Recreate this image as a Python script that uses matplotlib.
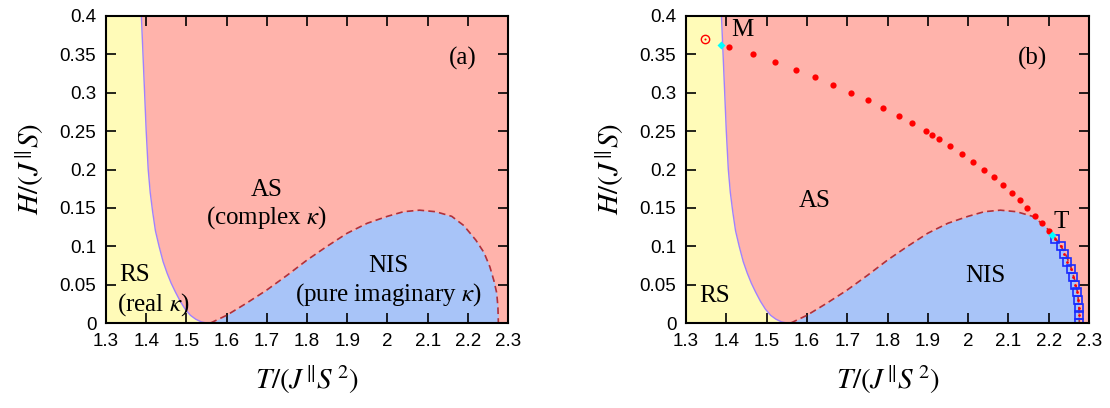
import numpy as np
import matplotlib
matplotlib.use("Agg")
from matplotlib import pyplot as plt

# RS / AS boundary (solid purple)
rs_T = [1.388, 1.392, 1.396, 1.400, 1.405, 1.410, 1.416, 1.423, 1.432, 1.442, 1.452,
        1.462, 1.473, 1.485, 1.497, 1.510, 1.523, 1.537, 1.55]
rs_H = [0.40, 0.35, 0.30, 0.25, 0.20, 0.17, 0.145, 0.12, 0.10, 0.08, 0.065,
        0.052, 0.040, 0.028, 0.018, 0.010, 0.005, 0.0015, 0.0]

# AS / NIS boundary (dashed)
nis_T = [1.56, 1.60, 1.65, 1.70, 1.75, 1.80, 1.85, 1.90, 1.95, 2.00, 2.04, 2.08,
         2.12, 2.16, 2.19, 2.22, 2.24, 2.255, 2.265, 2.272, 2.275, 2.276]
nis_H = [0.0, 0.010, 0.026, 0.043, 0.062, 0.082, 0.100, 0.117, 0.130, 0.139, 0.145, 0.147,
         0.145, 0.139, 0.127, 0.108, 0.092, 0.073, 0.055, 0.039, 0.02, 0.0]

# panel (b) data
dot_T = [1.407, 1.466, 1.521, 1.572, 1.621, 1.666, 1.710, 1.751, 1.790, 1.828, 1.862, 1.895,
         1.910, 1.927, 1.955, 1.985, 2.012, 2.039, 2.064, 2.086, 2.108, 2.128, 2.147, 2.166,
         2.184, 2.200]
dot_H = [0.36, 0.35, 0.34, 0.33, 0.32, 0.31, 0.30, 0.29, 0.28, 0.27, 0.26, 0.25,
         0.245, 0.24, 0.23, 0.22, 0.21, 0.20, 0.19, 0.18, 0.17, 0.16, 0.15, 0.14,
         0.13, 0.12]
sq_T = [2.216, 2.230, 2.238, 2.246, 2.2545, 2.260, 2.266, 2.270, 2.272, 2.2745, 2.276, 2.276]
sq_H = [0.11, 0.10, 0.09, 0.08, 0.07, 0.06, 0.05, 0.04, 0.03, 0.02, 0.01, 0.0]
open_T, open_H = [1.347], [0.37]
crit_T = [1.388, 2.208]
crit_H = [0.362, 0.1147]

yellow = "#fffbb8"
pink = "#ffb3ab"
blue = "#a8c4f8"
purple = "#a080ff"
dred = "#b0303a"

plt.rcParams["mathtext.fontset"] = "stix"
tick_font = "Liberation Sans"
serif = "Liberation Serif"

fig = plt.figure(figsize=(11.1, 4.08), dpi=100)
ax_a = fig.add_axes([106 / 1110, 85 / 408, 402 / 1110, 307 / 408])
ax_b = fig.add_axes([686 / 1110, 85 / 408, 403 / 1110, 307 / 408])

for ax in (ax_a, ax_b):
    ax.set_facecolor(pink)
    ax.fill_betweenx(rs_H, 1.3, rs_T, color=yellow, lw=0)
    ax.fill_between(nis_T, 0, nis_H, color=blue, lw=0)
    ax.plot(rs_T, rs_H, color=purple, lw=1.0)
    ax.plot(nis_T, nis_H, color=dred, lw=1.2, ls=(0, (4, 2.5)))
    ax.set_xlim(1.3, 2.3)
    ax.set_ylim(0, 0.4)
    ax.set_xticks(np.arange(1.3, 2.31, 0.1))
    ax.set_xticklabels(["1.3", "1.4", "1.5", "1.6", "1.7", "1.8", "1.9", "2", "2.1", "2.2", "2.3"])
    ax.set_yticks(np.arange(0, 0.41, 0.05))
    ax.set_yticklabels(["0", "0.05", "0.1", "0.15", "0.2", "0.25", "0.3", "0.35", "0.4"])
    ax.tick_params(direction="in", length=7, width=1.2, top=True, right=True,
                   labelsize=13.5, pad=7)
    for lab in ax.get_xticklabels() + ax.get_yticklabels():
        lab.set_fontfamily(tick_font)
    for s in ax.spines.values():
        s.set_linewidth(1.5)
    ax.set_xlabel(r"$T/(J^{\Vert}S^{\,2})$", fontsize=21, labelpad=10)
    ax.set_ylabel(r"$H/(J^{\Vert}S)$", fontsize=21, labelpad=10)

tk = dict(fontsize=18, family=serif, ha="center", va="center")
ax_a.text(2.188, 0.345, "(a)", **tk)
ax_a.text(1.70, 0.173, "AS", **tk)
ax_a.text(1.70, 0.137, "(complex $\\kappa$)", **tk)
ax_a.text(1.372, 0.0625, "RS", **tk)
ax_a.text(1.418, 0.0235, "(real $\\kappa$)", **tk)
ax_a.text(2.002, 0.0743, "NIS", **tk)
ax_a.text(2.002, 0.0365, "(pure imaginary $\\kappa$)", **tk)

ax_b.text(2.161, 0.345, "(b)", **tk)
ax_b.text(1.62, 0.159, "AS", **tk)
ax_b.text(1.372, 0.035, "RS", **tk)
ax_b.text(2.042, 0.061, "NIS", **tk)
ax_b.text(1.44, 0.382, "M", **tk)
ax_b.text(2.232, 0.132, "T", **tk)

ax_b.plot(dot_T, dot_H, "o", color="red", ms=4.5, mec="none")
ax_b.plot(sq_T, sq_H, "s", mfc="none", mec="#1a2cff", ms=5.5, mew=1.2)
ax_b.plot(sq_T, sq_H, "o", color="red", ms=2, mec="none")
ax_b.plot(open_T, open_H, "o", mfc="none", mec="red", ms=6, mew=1.0)
ax_b.plot(open_T, open_H, "o", color="red", ms=1.5, mec="none")
ax_b.plot(crit_T, crit_H, "D", color="cyan", ms=4, mec="none")

fig.savefig("out.png", dpi=100)
